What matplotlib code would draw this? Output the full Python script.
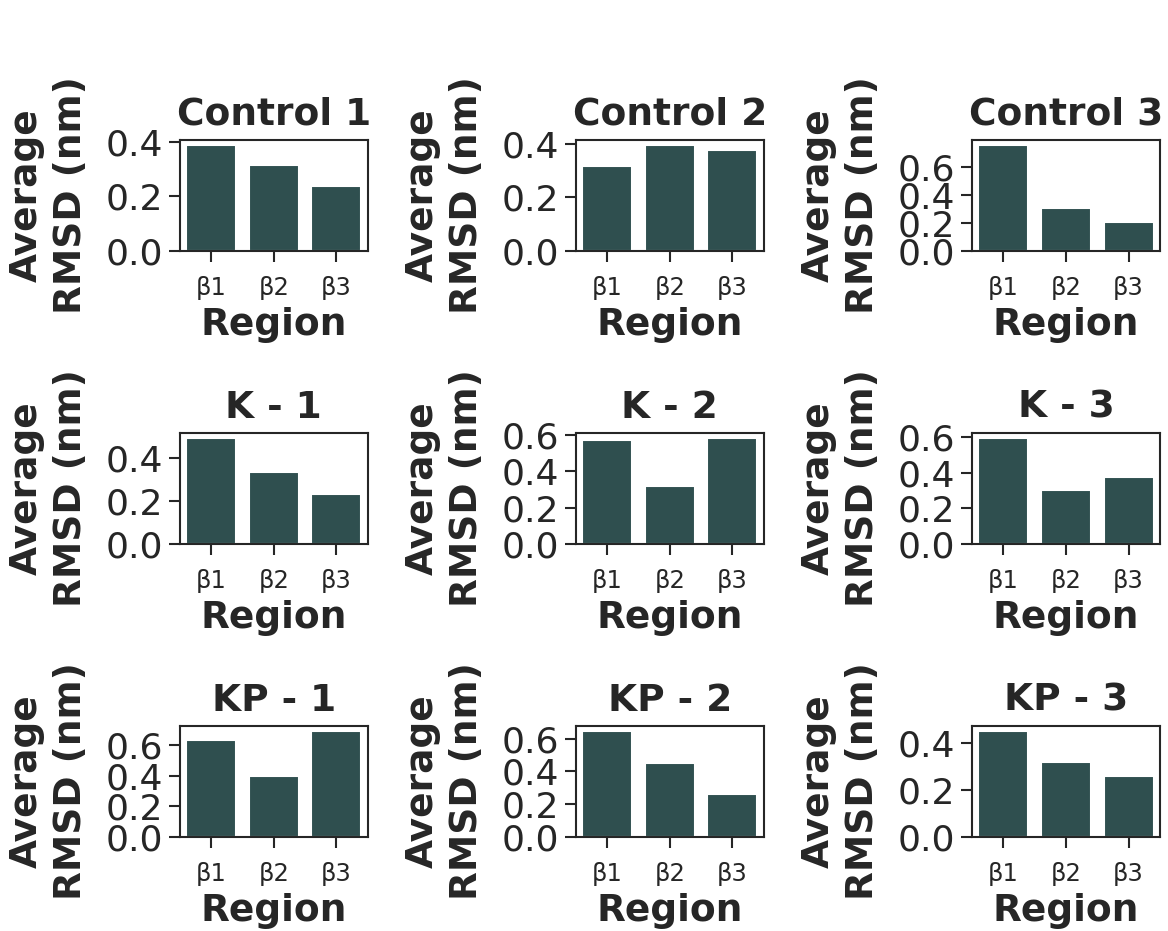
import numpy as np
import matplotlib.pyplot as plt

regions = ["β1", "β2", "β3"]
titles = ["Control 1", "Control 2", "Control 3",
          "K - 1", "K - 2", "K - 3",
          "KP - 1", "KP - 2", "KP - 3"]
control_1 = [0.390, 0.317, 0.238]
control_2 = [0.317, 0.397, 0.378]
control_3 = [0.755, 0.308, 0.203]
k_1 = [0.494, 0.334, 0.235]
k_2 = [0.576, 0.322, 0.584]
k_3 = [0.594, 0.303, 0.373]
kp_1 = [0.634, 0.399, 0.692]
kp_2 = [0.645, 0.453, 0.263]
kp_3 = [0.450, 0.318, 0.258]
values = [control_1, control_2, control_3, k_1, k_2, k_3, kp_1, kp_2, kp_3]

bar_color = "#2f4f4f"
text_color = "#262626"

plt.rcParams["font.family"] = "DejaVu Sans"
plt.rcParams["text.color"] = text_color
plt.rcParams["axes.labelcolor"] = text_color
plt.rcParams["xtick.color"] = text_color
plt.rcParams["ytick.color"] = text_color
plt.rcParams["axes.edgecolor"] = text_color

fig, axes = plt.subplots(3, 3, figsize=(11.68, 9.31), dpi=100)
fig.subplots_adjust(left=0.154, right=0.993, bottom=0.101, top=0.850,
                    wspace=1.11, hspace=1.64)

x = np.arange(len(regions))
for ax, title, vals in zip(axes.flat, titles, values):
    ax.bar(x, vals, width=0.8, color=bar_color, edgecolor="white", linewidth=1.5)
    ax.set_xlim(-0.5, 2.5)
    ax.set_xticks(x)
    ax.set_xticklabels(regions)
    ax.set_title(title, fontsize=27, fontweight="bold", pad=11)
    ax.set_xlabel("Region", fontsize=27, fontweight="bold", labelpad=5)
    # two-line y label, lines spread a little wider than default
    ax.set_ylabel("Average\nRMSD (nm)", fontsize=27, fontweight="bold",
                  labelpad=12, linespacing=1.3)
    ax.tick_params(axis="x", labelsize=17.5, length=8, width=1.5, pad=10)
    ax.tick_params(axis="y", labelsize=26, length=8, width=1.5, pad=4)
    ax.yaxis.set_major_locator(plt.MultipleLocator(0.2))
    ax.yaxis.set_major_formatter(plt.FormatStrFormatter("%.1f"))
    for s in ax.spines.values():
        s.set_linewidth(1.5)

plt.savefig("out.png", dpi=100)
